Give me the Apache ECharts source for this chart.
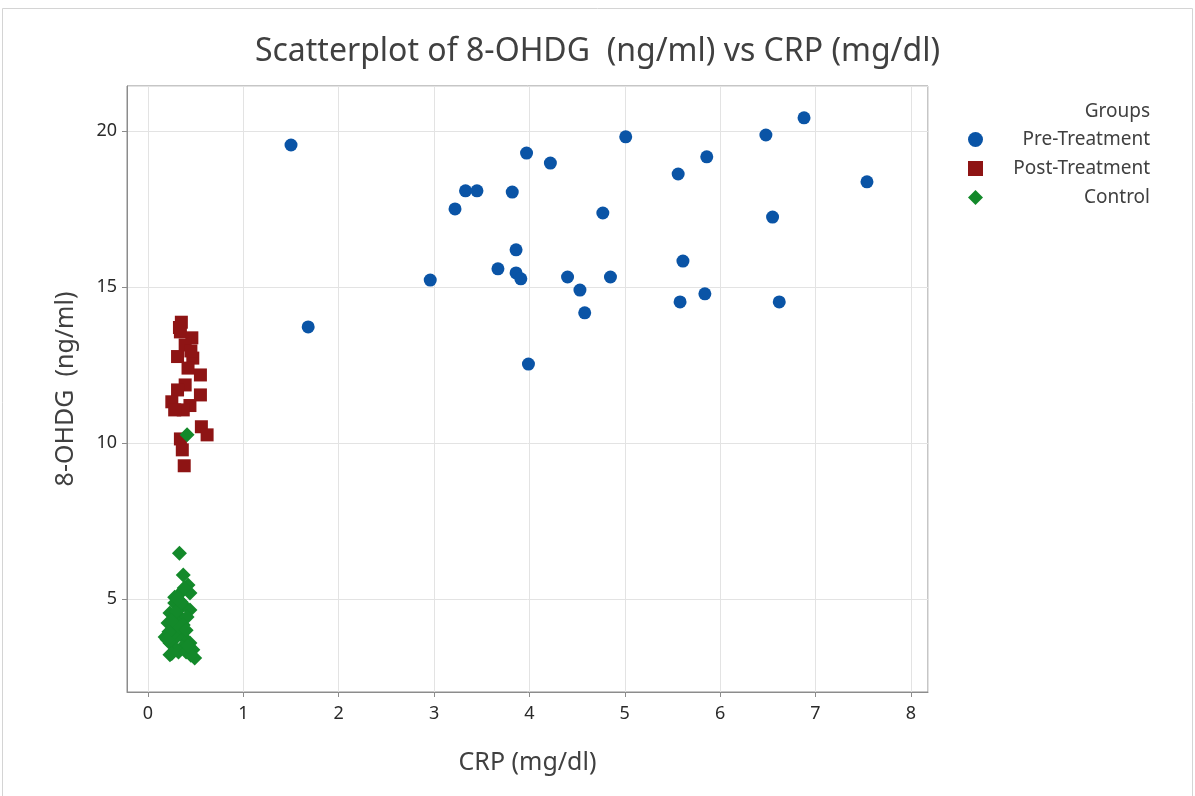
<!DOCTYPE html>
<html>
<head>
<meta charset="utf-8">
<script src="https://cdn.jsdelivr.net/npm/echarts@6/dist/echarts.min.js"></script>
<style>
  html, body { margin: 0; padding: 0; background: #fff; }
  #chart { width: 1195px; height: 796px; }
</style>
</head>
<body>
<div id="chart"></div>
<script>
// 数据
var pre_x = [1.50, 1.68, 2.96, 3.22, 3.33, 3.45, 3.67, 3.82, 3.86, 3.86, 3.91, 3.97, 3.99, 4.22, 4.40,
             4.53, 4.58, 4.77, 4.85, 5.01, 5.56, 5.58, 5.61, 5.84, 5.86, 6.48, 6.55, 6.62, 6.88, 7.54];
var pre_y = [19.55, 13.72, 15.22, 17.50, 18.08, 18.08, 15.58, 18.04, 16.19, 15.45, 15.26, 19.29, 12.53, 18.97, 15.32,
             14.90, 14.17, 17.37, 15.32, 19.81, 18.62, 14.52, 15.83, 14.78, 19.17, 19.87, 17.24, 14.52, 20.42, 18.37];

var post_x = [0.35, 0.34, 0.46, 0.39, 0.31, 0.47, 0.42, 0.55, 0.39, 0.31, 0.25, 0.55, 0.44, 0.37, 0.28,
              0.56, 0.62, 0.34, 0.36, 0.38, 0.33, 0.45];
var post_y = [13.87, 13.56, 13.37, 13.14, 12.77, 12.72, 12.40, 12.18, 11.86, 11.70, 11.32, 11.54, 11.20, 11.06, 11.06,
              10.52, 10.26, 10.13, 9.78, 9.27, 13.70, 12.95];

var ctrl_x = [0.41, 0.33, 0.37, 0.42, 0.34, 0.44, 0.28, 0.37, 0.44, 0.23, 0.34, 0.41, 0.21, 0.37, 0.27,
              0.18, 0.37, 0.30, 0.23, 0.44, 0.36, 0.30, 0.47, 0.23, 0.49, 0.28,
              0.25, 0.32, 0.40, 0.45, 0.27, 0.33, 0.30, 0.35, 0.25, 0.40, 0.22, 0.38, 0.31, 0.42, 0.20];
var ctrl_y = [10.26, 6.47, 5.77, 5.45, 5.19, 5.19, 4.87, 4.81, 4.65, 4.55, 4.42, 4.42, 4.23, 4.17, 4.01,
              3.78, 3.78, 3.78, 3.59, 3.59, 3.46, 3.37, 3.37, 3.21, 3.11, 5.06,
              3.25, 3.30, 3.30, 3.20, 3.90, 4.10, 4.60, 4.90, 4.30, 4.00, 3.95, 5.35, 5.00, 3.50, 3.70];

var group_names = ['Pre-Treatment', 'Post-Treatment', 'Control'];
var group_colors = ['#0a54a6', '#8e1414', '#13892a'];

function to_pairs(xs, ys) {
    var out = [];
    for (var i = 0; i < xs.length; i++) out.push([xs[i], ys[i]]);
    return out;
}

var chart = echarts.init(document.getElementById('chart'));

var font = '"Noto Sans", "Open Sans", sans-serif';

var option = {
    backgroundColor: '#ffffff',
    animation: false,
    title: [
        {
            text: 'Scatterplot of 8-OHDG  (ng/ml) vs CRP (mg/dl)',
            left: 'center',
            top: 31,
            textStyle: { fontFamily: font, fontSize: 32, fontWeight: 'normal', color: '#404040' }
        },
        {
            text: 'Groups',
            right: 40,
            top: 97,
            textStyle: { fontFamily: font, fontSize: 19, fontWeight: 'normal', color: '#404040' }
        }
    ],
    graphic: [{
        type: 'rect',
        shape: { x: 2.5, y: 8.5, width: 1190, height: 800 },
        style: { fill: null, stroke: '#d4d4d4', lineWidth: 1 },
        silent: true
    }],
    legend: {
        orient: 'vertical',
        left: 968,
        top: 130,
        padding: 0,
        itemWidth: 15,
        itemHeight: 15,
        itemGap: 10,
        data: [
            { name: group_names[0], icon: 'circle' },
            { name: group_names[1], icon: 'rect' },
            { name: group_names[2], icon: 'diamond' }
        ],
        formatter: function (name) { return '{a|' + name + '}'; },
        textStyle: {
            fontFamily: font,
            fontSize: 19,
            color: '#404040',
            lineHeight: 15,
            rich: { a: { width: 162, align: 'right', fontFamily: font, fontSize: 19, color: '#404040', lineHeight: 15 } }
        }
    },
    grid: {
        left: 127,
        right: 267,
        top: 86,
        bottom: 104,
        show: true,
        borderColor: '#8c8c8c',
        borderWidth: 1,
        containLabel: false
    },
    xAxis: {
        type: 'value',
        min: -0.22,
        max: 8.18,
        splitNumber: 8,
        name: 'CRP (mg/dl)',
        nameLocation: 'middle',
        nameGap: 58,
        nameTextStyle: { fontFamily: font, fontSize: 25, color: '#404040' },
        axisLine: { show: true, onZero: false, lineStyle: { color: '#8c8c8c' } },
        axisTick: { show: true, inside: false, length: 5, lineStyle: { color: '#8c8c8c' } },
        axisLabel: {
            margin: 13, fontFamily: font, fontSize: 18, color: '#2a2a2a',
            showMinLabel: false, showMaxLabel: false,
            formatter: function (v) { return Math.abs(v - Math.round(v)) < 1e-6 ? String(Math.round(v)) : ''; }
        },
        splitLine: { show: true, lineStyle: { color: '#e3e3e3' } }
    },
    yAxis: {
        type: 'value',
        min: 2.02,
        max: 21.44,
        splitNumber: 4,
        name: '8-OHDG  (ng/ml)',
        nameLocation: 'middle',
        nameGap: 49,
        nameTextStyle: { fontFamily: font, fontSize: 25, color: '#404040' },
        axisLine: { show: true, onZero: false, lineStyle: { color: '#8c8c8c' } },
        axisTick: { show: true, inside: false, length: 5, lineStyle: { color: '#8c8c8c' } },
        axisLabel: {
            margin: 10, fontFamily: font, fontSize: 18, color: '#2a2a2a',
            showMinLabel: false, showMaxLabel: false,
            formatter: function (v) { return Math.abs(v % 5) < 1e-6 ? String(Math.round(v)) : ''; }
        },
        splitLine: { show: true, lineStyle: { color: '#e3e3e3' } }
    },
    series: [
        {
            name: group_names[0],
            type: 'scatter',
            symbol: 'circle',
            symbolSize: 13,
            itemStyle: { color: group_colors[0], opacity: 1 },
            data: to_pairs(pre_x, pre_y)
        },
        {
            name: group_names[1],
            type: 'scatter',
            symbol: 'rect',
            symbolSize: 13,
            itemStyle: { color: group_colors[1], opacity: 1 },
            data: to_pairs(post_x, post_y)
        },
        {
            name: group_names[2],
            type: 'scatter',
            symbol: 'diamond',
            symbolSize: 15,
            itemStyle: { color: group_colors[2], opacity: 1 },
            data: to_pairs(ctrl_x, ctrl_y)
        }
    ]
};

chart.setOption(option);
</script>
</body>
</html>
